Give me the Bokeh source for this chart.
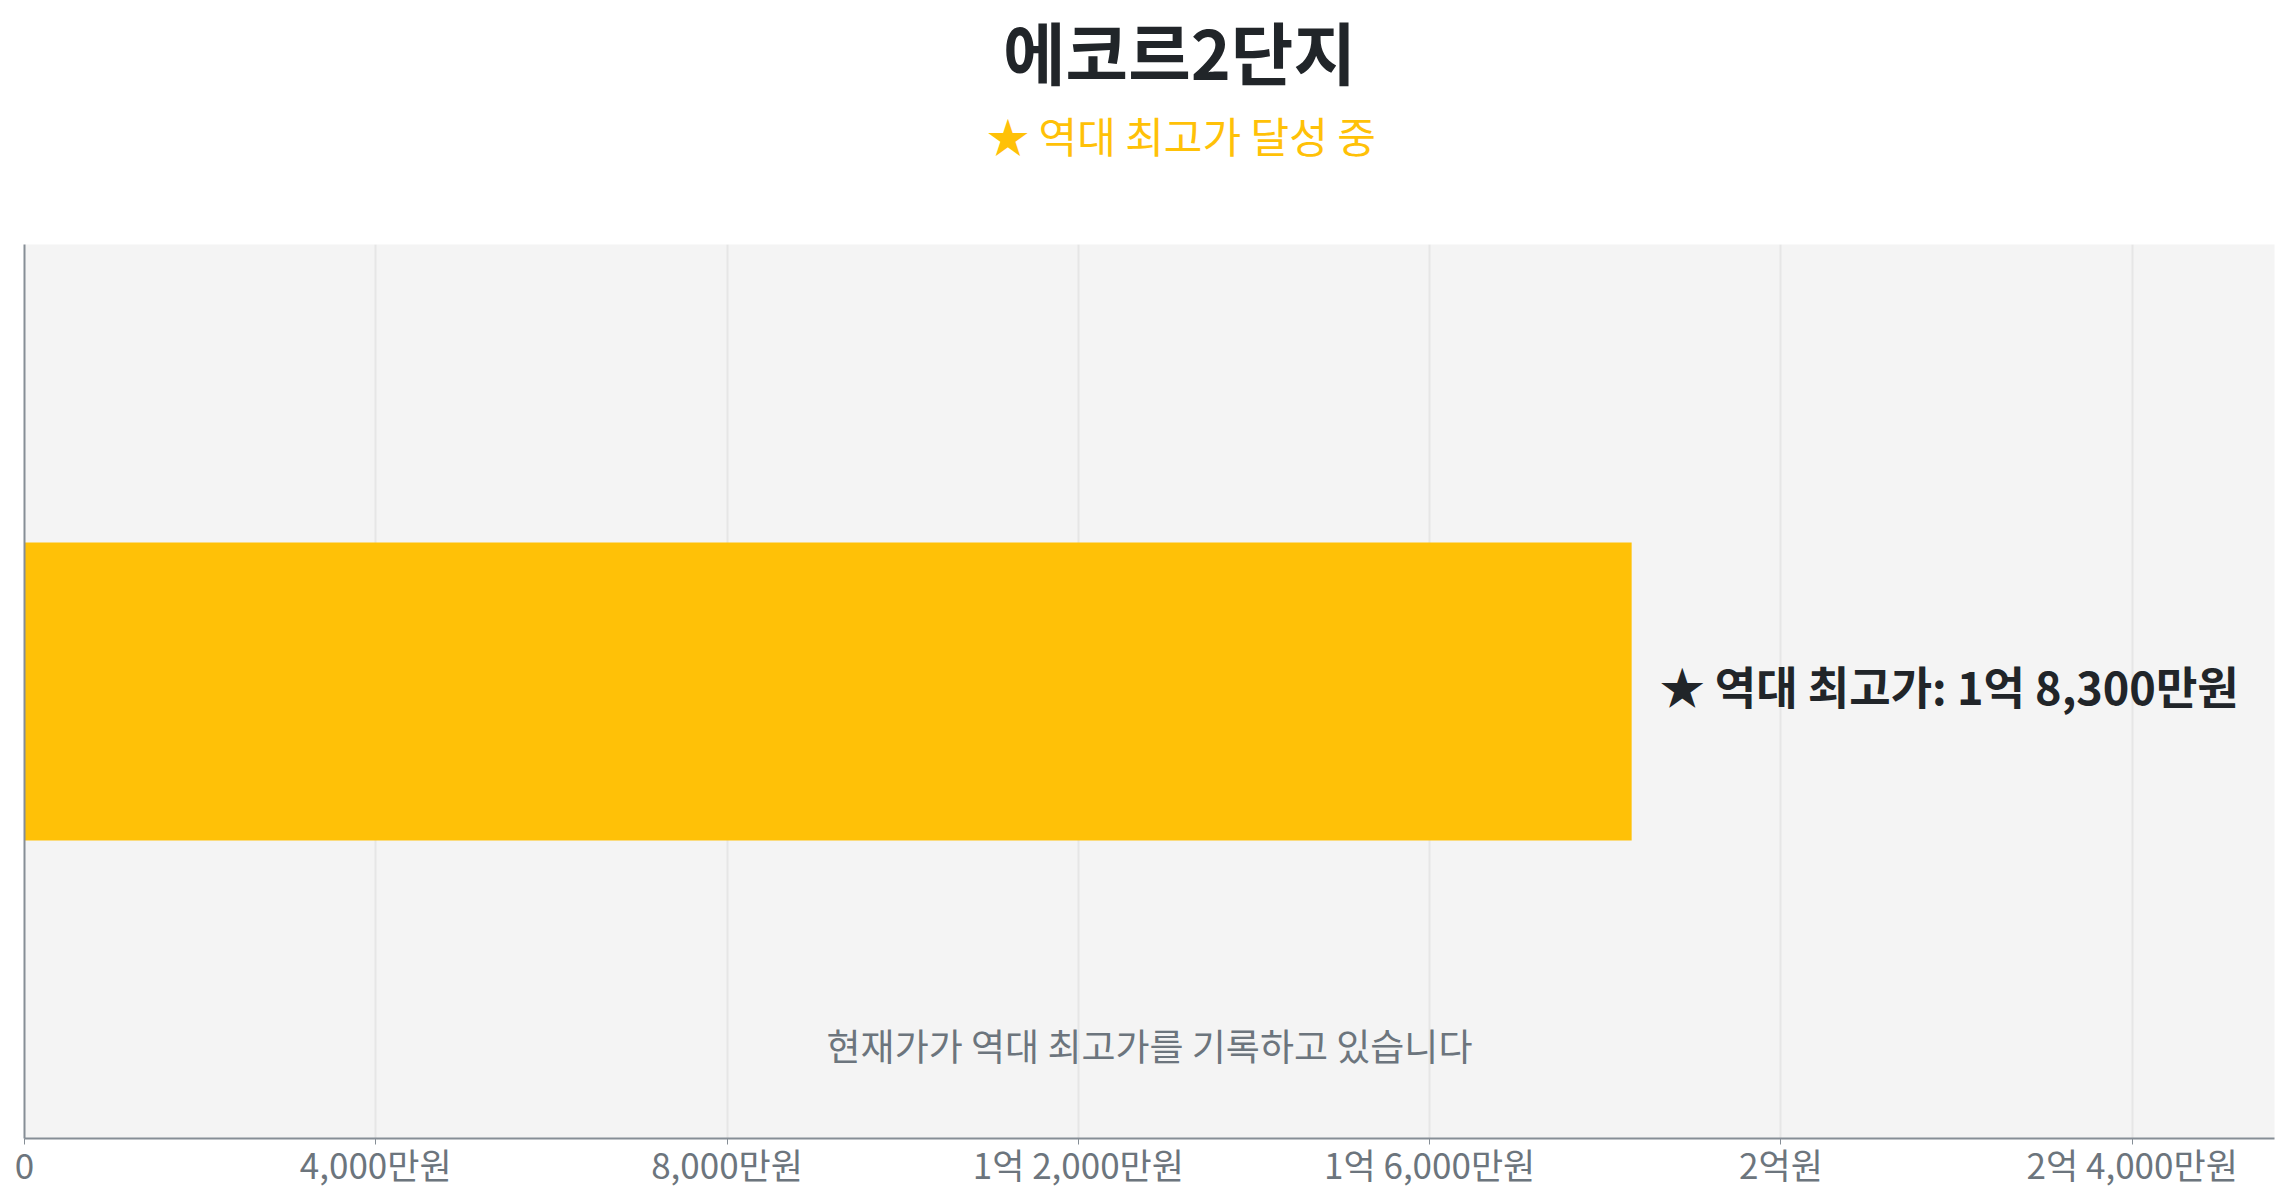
from bokeh.plotting import figure
from bokeh.layouts import column
from bokeh.models import Range1d, FixedTicker, Label, ColumnDataSource
from bokeh.core.properties import value
from bokeh.embed import file_html
from bokeh.resources import INLINE

# ---- data ----
title_text = "에코르2단지"
subtitle_text = "★ 역대 최고가 달성 중"
categories = ["에코르2단지"]
prices = [18300]  # 만원
bar_labels = ["★ 역대 최고가: 1억 8,300만원"]
note_text = "현재가가 역대 최고가를 기록하고 있습니다"
tick_values = [0, 4000, 8000, 12000, 16000, 20000, 24000]
tick_labels = ["0", "4,000만원", "8,000만원", "1억 2,000만원", "1억 6,000만원", "2억원", "2억 4,000만원"]

FONT = "Noto Sans CJK KR"
x_max = max(prices) * 1.4
PAGE_W = 2279
HEAD_H = 244

# ---- header (title + subtitle) ----
head = figure(frame_width=PAGE_W, frame_height=HEAD_H,
              x_range=Range1d(0, PAGE_W), y_range=Range1d(HEAD_H, 0),
              x_axis_location=None, y_axis_location=None,
              output_backend="svg", toolbar_location=None,
              min_border=0)
head.outline_line_color = None
head.background_fill_color = "white"
head.border_fill_color = "white"
head.xgrid.visible = False
head.ygrid.visible = False
head.add_layout(Label(x=1155, y=50, text=title_text, text_font=FONT,
                      text_font_size="68px", text_font_style="bold",
                      text_color="#212529", text_align="center", text_baseline="middle"))
head.add_layout(Label(x=1157, y=134, text=subtitle_text, text_font=FONT,
                      text_font_size="42px", text_color="#ffc107",
                      text_align="center", text_baseline="middle"))

# ---- main chart ----
p = figure(
    frame_width=2250, frame_height=894,
    x_range=Range1d(0, x_max), y_range=Range1d(-1.5, 1.5),
    output_backend="svg", toolbar_location=None,
    min_border_left=24, min_border_right=5, min_border_top=0, min_border_bottom=52,
)
p.background_fill_color = "#f4f4f4"
p.border_fill_color = "white"
p.outline_line_color = None

src = ColumnDataSource(dict(y=[0] * len(prices), right=prices, label=bar_labels))
p.hbar(y="y", left=0, right="right", height=1.0, source=src,
       fill_color="#ffc107", line_color=None)
p.text(x="right", y="y", text="label", source=src, x_offset=28, y_offset=-6,
       text_font=value(FONT), text_font_style="bold", text_font_size="45px",
       text_color="#212529", text_baseline="middle", text_align="left")

p.add_layout(Label(x=x_max / 2, y=-1.187, text=note_text, text_font=FONT,
                   text_font_size="37px", text_color="#6c757d",
                   text_align="center", text_baseline="middle"))

# x axis
p.xaxis.ticker = FixedTicker(ticks=tick_values)
p.xaxis.major_label_overrides = {v: l for v, l in zip(tick_values, tick_labels)}
p.xaxis.major_label_text_font = FONT
p.xaxis.major_label_text_font_size = "35px"
p.xaxis.major_label_text_color = "#6c757d"
p.xaxis.major_label_standoff = -7
p.xaxis.axis_line_color = "#868e96"
p.xaxis.axis_line_width = 2
p.xaxis.major_tick_in = 0
p.xaxis.major_tick_out = 6
p.xaxis.major_tick_line_color = "#868e96"
p.xaxis.minor_tick_line_color = None

# y axis: line only
p.yaxis.ticker = FixedTicker(ticks=[])
p.yaxis.major_label_text_font_size = "0px"
p.yaxis.major_tick_line_color = None
p.yaxis.minor_tick_line_color = None
p.yaxis.axis_line_color = "#868e96"
p.yaxis.axis_line_width = 2

p.xgrid.ticker = FixedTicker(ticks=tick_values)
p.xgrid.grid_line_color = "#e6e6e6"
p.xgrid.grid_line_width = 2
p.ygrid.grid_line_color = None

layout = column(head, p, spacing=0)
open("out.html", "w").write(file_html(layout, INLINE))
